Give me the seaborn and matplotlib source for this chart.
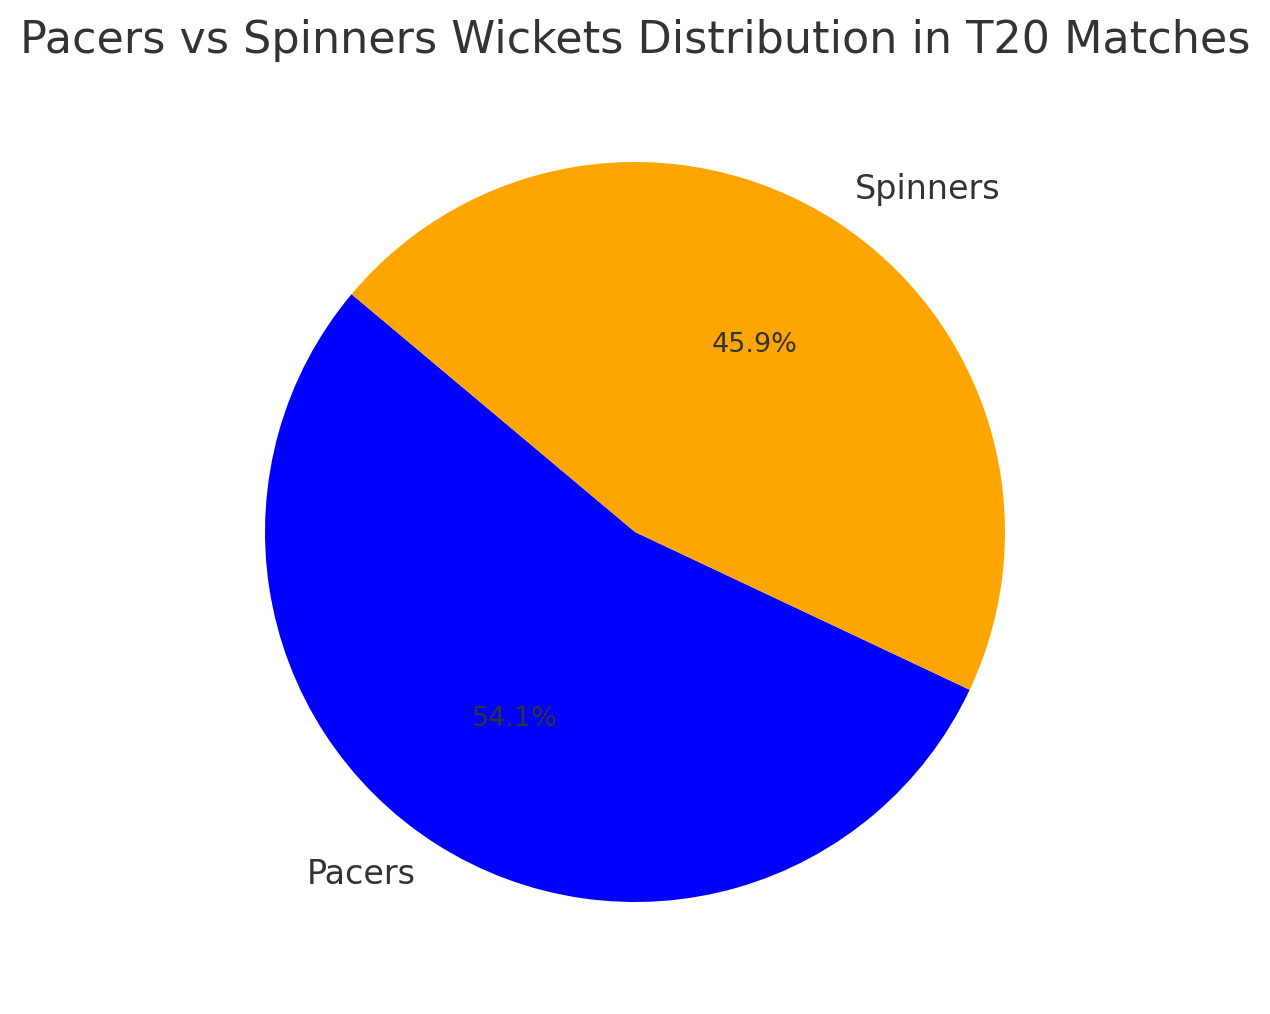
import matplotlib
matplotlib.use("Agg")
import matplotlib.pyplot as plt
import seaborn as sns

categories = ["Pacers", "Spinners"]
shares = [54.1, 45.9]
colors = ["blue", "orange"]
title = "Pacers vs Spinners Wickets Distribution in T20 Matches"

sns.set_theme(style="white")
plt.rcParams['font.family'] = ['DejaVu Sans']
plt.rcParams['text.color'] = '#333333'

W, H = 1270, 1014
fig = plt.figure(figsize=(W / 100, H / 100), dpi=100)
R = 370  # pie radius in px
cx, cy = 635, H - 532
half = 1.2 * R
ax = fig.add_axes([(cx - half) / W, (cy - half) / H, 2 * half / W, 2 * half / H])
wedges, texts, autotexts = ax.pie(
    shares, labels=categories, colors=colors, autopct="%1.1f%%",
    startangle=140, wedgeprops={"linewidth": 0, "edgecolor": "none"},
    textprops={"fontsize": 24, "color": "#333333"})
for t in autotexts:
    t.set_fontsize(19.5)
ax.set_xlim(-1.2, 1.2)
ax.set_ylim(-1.2, 1.2)
ax.set_aspect("equal")
ax.axis("off")
fig.text(0.5, 1 - 40 / H, title, ha="center", va="center", fontsize=32, color="#333333")
fig.savefig("out.png", dpi=100)
